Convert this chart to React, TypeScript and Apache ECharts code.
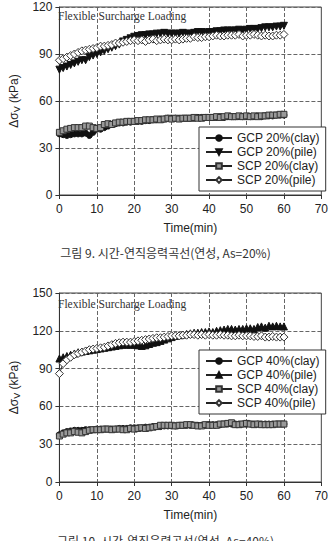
import React, { useEffect, useRef } from "react";
import * as echarts from "echarts";

const time: number[] = Array.from({ length: 61 }, (_, i) => i);

const gcp20Clay = [39,38.5,38,38.5,39,39,39,39.5,38,40,42,42,43,44,45,45.5,46,46,46.5,46.5,47,47,47,47.5,47.5,48,48,48.5,48.5,49,49,49,49,49,49,49,49,49.5,49.5,49.5,49.5,49.5,49.5,50,49.5,50,50,50,50,50,50,50,50,50.5,50,50.5,50.5,50.5,51,51,51];
const gcp20Pile = [80,81,82,83,84,85,86,86,88,89,90,91,92,93,94,95,96,98,99,100,101,101.5,102,102,102.5,102.5,103,103,103.5,103,103,103,103,103.5,103,103,103.5,104,104,103.5,104,104,104.5,104.5,105,105,105,105,105.5,105,105.5,106,106,106,106.5,107,107,107,107.5,107.5,108];
const scp20Clay = [40,41,42,42.5,43,43,43,44,44,43,42.5,43,45,45.5,45,46,46.5,46.5,47,47,47,47.5,47.5,48,48,48,48.5,48,48.5,49,48.5,49,48.5,49,49,49,49.5,49,49,49.5,49.5,49.5,50,49.5,50,50.5,50,50,50.5,50,50.5,50,50.5,50,50.5,50.5,51,51,51,51.5,51.5];
const scp20Pile = [86,87,88,89,90,91,92,92.5,93,93.5,94,95,95,95.5,96,97,97,97.5,98,98.5,99,98.5,99,98,99,99.5,98.5,99,99.5,99,99,99.5,99,99.5,100,100,101,100.5,100.5,101,101,101.5,102,101.5,101.5,102,102,102,102.5,101.5,102,102,102.5,102,101.5,102,101.5,101.5,102,102,102.5];

const gcp40Clay = [37.5,39,40,40.5,41,41,41,41.5,41.5,41.5,42,42,42,42,42,42,42.5,42.5,42.5,43,43,43,43,43.5,43.5,44,44,44,44.5,44.5,44.5,44.5,45,45,45,45,45,45,45,45,45.5,45.5,45.5,45.5,46,46,46,46,46,46,46,46,46,46,46,46,46,46,46,46,46];
const gcp40Pile = [98,99,100,101,102,103,103.5,104,104.5,105,105.5,106,106.5,107,107.5,108,108.5,109,109,109,109,108.5,108,108.5,109.5,110.5,111,112,113,114,115,116,116.5,117,117.5,118,118.5,118.5,119,119,119.5,119,120,120.5,121,121.5,121.5,121,121.5,121.5,122,122,121.5,123,123.5,122.5,124,123.5,124,123.5,123.5];
const scp40Clay = [36.5,38,39,39,40,39.5,39,40,41,41.5,41.5,41.5,42,42,41.5,42,42,41.5,41.5,42.5,42,42.5,43,42.5,43,43.5,44,45,45,45,45,44.5,45,45,45.5,45.5,45,44.5,44.5,45.5,45,45,45,46,46,46.5,47,45.5,45.5,46,46.5,46,45.5,46,45.5,45.5,45.5,45.5,46,46,46];
const scp40Pile = [86,94,97,99,101,102,103,104,105,105.5,106,106.5,107,108,109,110,110.5,111,111,111,111.5,112,112.5,113,113.5,114,114.5,114.5,115,115.5,116,116,116,116.5,116.5,117,117,116.5,117,116.5,117,116.5,116.5,117,116.5,116.5,116,116,116.5,116,116,116,115.5,115.5,116,115,115,115.5,115,115,115];

const names1 = ["GCP 20%(clay)", "GCP 20%(pile)", "SCP 20%(clay)", "SCP 20%(pile)"];
const names2 = ["GCP 40%(clay)", "GCP 40%(pile)", "SCP 40%(clay)", "SCP 40%(pile)"];
const xTicks = { min: 0, max: 70, interval: 10 };
const y1Ticks = { min: 0, max: 120, interval: 30 };
const y2Ticks = { min: 0, max: 150, interval: 30 };

const caption1 = "그림 9. 시간-연직응력곡선(연성, As=20%)";
const caption2 = "그림 10. 시간-연직응력곡선(연성, As=40%)";
const loadLabel = "Flexible Surcharge Loading";

const pairs = (v: number[]) => time.map((t, i) => [t, v[i]]);

export default function App() {
  const ref = useRef<HTMLDivElement>(null);
  useEffect(() => {
    if (!ref.current) return;
    const chart = echarts.init(ref.current, null, { renderer: "svg" });
    const font = "Liberation Sans, Arial, sans-serif";
    const grids = [
      { left: 53, right: 8, top: 7, height: 188 },
      { left: 53, right: 8, top: 293, height: 189 },
    ];
    const mkX = (gi: number) => ({
      type: "value",
      gridIndex: gi,
      ...xTicks,
      name: "Time(min)",
      nameLocation: "middle",
      nameGap: 27,
      nameTextStyle: { fontFamily: font, fontSize: 12, color: "#222" },
      axisLine: { show: true, lineStyle: { color: "#333", width: 1 } },
      axisTick: { show: true, length: 4, lineStyle: { color: "#333" } },
      axisLabel: { fontFamily: font, fontSize: 12, color: "#222", margin: 8 },
      splitLine: { show: true, lineStyle: { type: "dashed", color: "#666", width: 1 } },
    });
    const mkY = (gi: number, t: any) => ({
      type: "value",
      gridIndex: gi,
      ...t,
      name: "{a|Δσ}{b|V}{a| (kPa)}",
      nameLocation: "middle",
      nameGap: 35,
      nameRotate: 90,
      nameTextStyle: {
        rich: {
          a: { fontFamily: font, fontSize: 12, color: "#222" },
          b: { fontFamily: font, fontSize: 9, color: "#222", verticalAlign: "bottom", padding: [6, 0, 0, 0] },
        },
      },
      axisLine: { show: true, lineStyle: { color: "#333", width: 1 } },
      axisTick: { show: true, length: 4, lineStyle: { color: "#333" } },
      axisLabel: { fontFamily: font, fontSize: 12, color: "#222", margin: 7 },
      splitLine: { show: true, lineStyle: { type: "dashed", color: "#666", width: 1 } },
    });
    const line = { color: "#222", width: 1 };
    const mkSeries = (gi: number, names: string[], data: number[][], pileSym: string, pileRot: number) => [
      { name: names[0], type: "line", xAxisIndex: gi, yAxisIndex: gi, data: pairs(data[0]), symbol: "circle", symbolSize: 6, lineStyle: line, itemStyle: { color: "#111", borderColor: "#111", borderWidth: 1 } },
      { name: names[1], type: "line", xAxisIndex: gi, yAxisIndex: gi, data: pairs(data[1]), symbol: pileSym, symbolRotate: pileRot, symbolSize: 7, lineStyle: line, itemStyle: { color: "#111", borderColor: "#111", borderWidth: 1 } },
      { name: names[2], type: "line", xAxisIndex: gi, yAxisIndex: gi, data: pairs(data[2]), symbol: "rect", symbolSize: 6, lineStyle: line, itemStyle: { color: "#999", borderColor: "#333", borderWidth: 1 } },
      { name: names[3], type: "line", xAxisIndex: gi, yAxisIndex: gi, data: pairs(data[3]), symbol: "diamond", symbolSize: 8, lineStyle: line, itemStyle: { color: "#fff", borderColor: "#333", borderWidth: 1 } },
    ];
    const mkLegend = (names: string[], top: number) => ({
      data: names,
      left: 199,
      top,
      width: 120,
      orient: "vertical",
      backgroundColor: "#fff",
      borderColor: "#333",
      borderWidth: 1,
      borderRadius: 0,
      padding: [5, 6, 5, 6],
      itemWidth: 26,
      itemHeight: 7,
      itemGap: 2,
      symbolKeepAspect: true,
      textStyle: { fontFamily: font, fontSize: 12, color: "#222", lineHeight: 12 },
    });
    const option: any = {
      animation: false,
      backgroundColor: "#fff",
      grid: grids.map((g) => ({ ...g, show: true, borderColor: "#444", borderWidth: 1, backgroundColor: "transparent" })),
      xAxis: [mkX(0), mkX(1)],
      yAxis: [mkY(0, y1Ticks), mkY(1, y2Ticks)],
      legend: [mkLegend(names1, 127), mkLegend(names2, 350)],
      series: [
        ...mkSeries(0, names1, [gcp20Clay, gcp20Pile, scp20Clay, scp20Pile], "triangle", 180),
        ...mkSeries(1, names2, [gcp40Clay, gcp40Pile, scp40Clay, scp40Pile], "triangle", 0),
      ],
      graphic: [
        { type: "text", left: 58, top: 10, style: { text: loadLabel, fontFamily: "Liberation Serif, serif", fontSize: 11.5, fill: "#333" } },
        { type: "text", left: 58, top: 298, style: { text: loadLabel, fontFamily: "Liberation Serif, serif", fontSize: 11.5, fill: "#333" } },
        { type: "text", left: "center", top: 246, style: { text: caption1, fontFamily: "Noto Sans CJK KR, sans-serif", fontSize: 12, fill: "#333" } },
        { type: "text", left: "center", top: 534, style: { text: caption2, fontFamily: "Noto Sans CJK KR, sans-serif", fontSize: 12, fill: "#333" } },
      ],
    };
    chart.setOption(option);
    return () => chart.dispose();
  }, []);
  return <div ref={ref} style={{ position: "fixed", left: 0, top: 0, width: 331, height: 541 }} />;
}
